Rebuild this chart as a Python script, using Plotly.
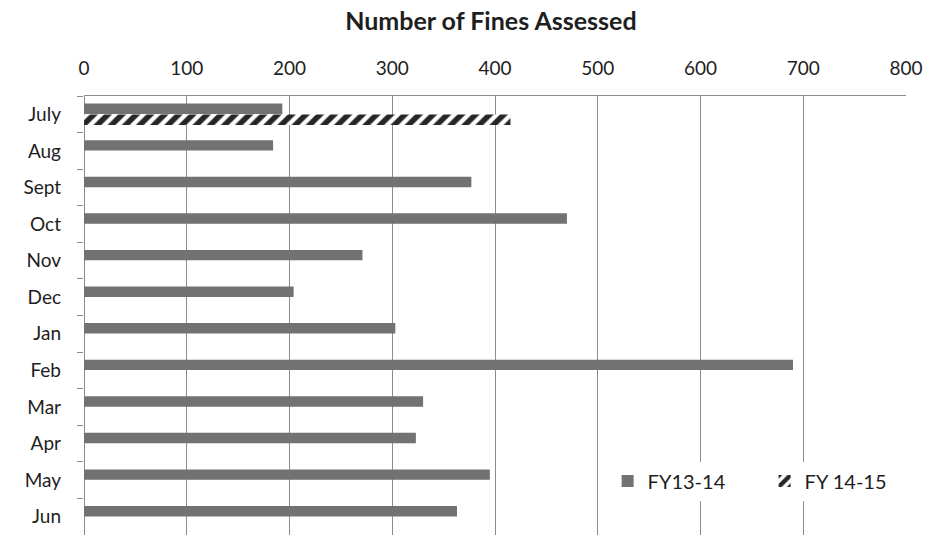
import plotly.graph_objects as go

months = ["July", "Aug", "Sept", "Oct", "Nov", "Dec", "Jan", "Feb", "Mar", "Apr", "May", "Jun"]
fy13_14 = [193, 184, 377, 470, 271, 204, 303, 690, 330, 323, 395, 363]
fy14_15 = [415, None, None, None, None, None, None, None, None, None, None, None]
x_ticks = [0, 100, 200, 300, 400, 500, 600, 700, 800]

font_family = "Lato, 'Open Sans', sans-serif"
text_color = "#1e1e1e"
grid_color = "#8c8c8c"

fig = go.Figure()
fig.add_trace(go.Bar(
    y=months, x=fy13_14, orientation="h", name="FY13-14",
    marker=dict(color="#727272", line=dict(width=0)),
))
fig.add_trace(go.Bar(
    y=months, x=fy14_15, orientation="h", name="FY 14-15",
    marker=dict(
        color="white",
        line=dict(width=0),
        pattern=dict(shape="/", fgcolor="#262626", bgcolor="white",
                     fgopacity=1, size=10, solidity=0.55),
    ),
))

fig.update_layout(
    width=935, height=540,
    margin=dict(l=84, r=29, t=96, b=5, autoexpand=False),
    paper_bgcolor="white", plot_bgcolor="white",
    barmode="group", bargap=0.4, bargroupgap=0.05,
    font=dict(family=font_family, color=text_color),
    title=dict(text="<b>Number of Fines Assessed</b>", x=0.525, xanchor="center",
               y=0.96, yanchor="middle", font=dict(size=25, color=text_color)),
    xaxis=dict(
        side="top", range=[0, 800], tickvals=x_ticks, ticktext=[str(v) for v in x_ticks],
        showgrid=True, gridcolor=grid_color, gridwidth=1,
        showline=True, linecolor=grid_color, linewidth=1, mirror=False,
        zeroline=True, zerolinecolor=grid_color, zerolinewidth=1,
        tickfont=dict(size=19, color=text_color), ticks="", ticklabelstandoff=12,
    ),
    yaxis=dict(
        autorange="reversed", type="category",
        showgrid=False, showline=False, zeroline=False,
        ticks="outside", tickson="boundaries", ticklen=6, tickcolor=grid_color,
        tickfont=dict(size=19, color=text_color), ticklabelstandoff=22,
    ),
    legend=dict(
        orientation="h", x=0.637, y=0.123, xanchor="left", yanchor="middle",
        bgcolor="white", font=dict(size=20, color=text_color),
        entrywidth=112, itemwidth=30, traceorder="normal",
    ),
    showlegend=True,
)

fig.write_html("out.html")
